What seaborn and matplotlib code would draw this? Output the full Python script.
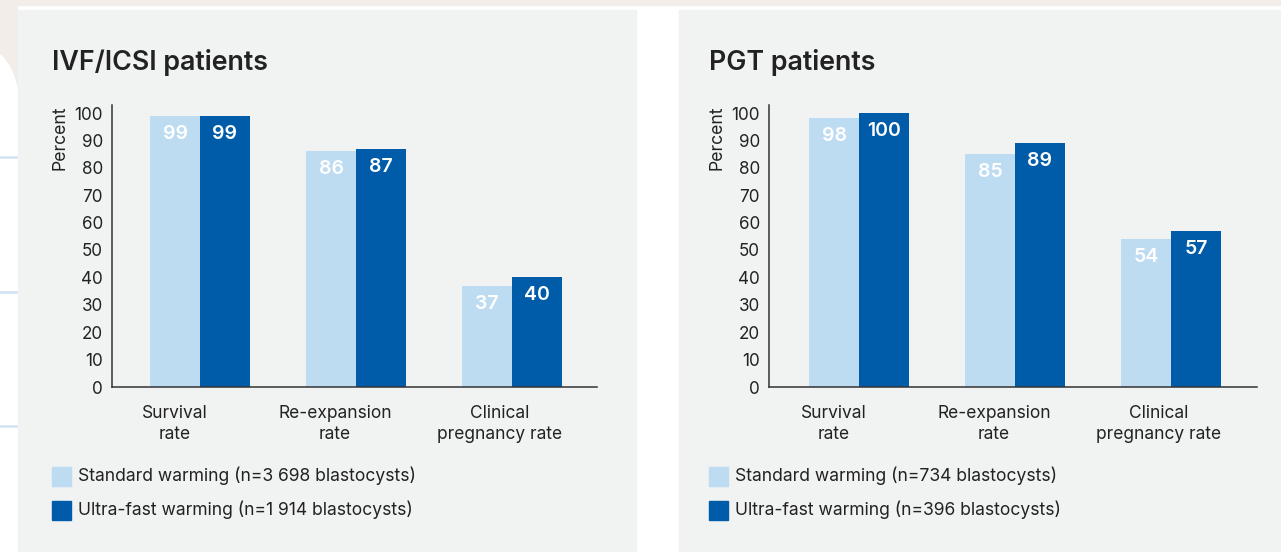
import matplotlib
matplotlib.use("Agg")
import matplotlib.pyplot as plt
import matplotlib.transforms as mtransforms
import seaborn as sns
import pandas as pd
from matplotlib.patches import Rectangle, Ellipse

# ---------------- data ----------------
categories = ["Survival\nrate", "Re-expansion\nrate", "Clinical\npregnancy rate"]
series_names = ["Standard warming", "Ultra-fast warming"]
ivf_standard = [99, 86, 37]
ivf_ultrafast = [99, 87, 40]
pgt_standard = [98, 85, 54]
pgt_ultrafast = [100, 89, 57]
ivf_title = "IVF/ICSI patients"
pgt_title = "PGT patients"
ivf_legend = ["Standard warming (n=3 698 blastocysts)", "Ultra-fast warming (n=1 914 blastocysts)"]
pgt_legend = ["Standard warming (n=734 blastocysts)", "Ultra-fast warming (n=396 blastocysts)"]
yticks = list(range(0, 101, 10))
y_label = "Percent"

# ---------------- style ----------------
LIGHT = "#bddcf2"
DARK = "#005ca8"
PANEL = "#f1f2f2"
BEIGE = "#f2ede8"
TEXT = "#222222"
AXIS = "#333333"
LABEL_SHIFT_PX = [-25, -21, -12]  # category labels sit a little left of the group centres

sns.set_theme(style="white")
plt.rcParams["font.family"] = ["Inter", "DejaVu Sans"]

W, H = 1281, 552
fig = plt.figure(figsize=(W / 100, H / 100), dpi=100)
fig.patch.set_facecolor("white")


def fx(x):
    return x / W


def fy(y):
    return 1 - y / H


# background decoration
fig.patches.append(Rectangle((0, fy(5)), 1, 5 / H, transform=fig.transFigure, color=BEIGE, zorder=0))
fig.patches.append(Rectangle((0, fy(85)), fx(17), 85 / H, transform=fig.transFigure, color=BEIGE, zorder=0))
fig.patches.append(Ellipse((fx(-30), fy(95)), 2 * 47 / W, 2 * 52 / H, transform=fig.transFigure,
                           color="white", zorder=0.5))
for yy in (157, 292, 426):
    fig.add_artist(plt.Line2D([0, fx(17)], [fy(yy), fy(yy)], transform=fig.transFigure,
                              color="#cfe3f3", lw=1.8, zorder=1))
fig.patches.append(Rectangle((fx(18), 0), fx(636 - 18), fy(10), transform=fig.transFigure,
                             color=PANEL, zorder=1))
fig.patches.append(Rectangle((fx(679), 0), 1 - fx(679), fy(10), transform=fig.transFigure,
                             color=PANEL, zorder=1))


def panel(x_axis, x_end, center0, title, std, ufw, legend_labels):
    ax = fig.add_axes([fx(x_axis), fy(387), fx(x_end - x_axis), 282 / H])
    ax.set_zorder(5)
    ax.set_facecolor("none")
    df = pd.DataFrame({
        "category": categories * 2,
        "series": [series_names[0]] * 3 + [series_names[1]] * 3,
        "value": list(std) + list(ufw),
    })
    sns.barplot(data=df, x="category", y="value", hue="series", palette=[LIGHT, DARK],
                width=0.64, gap=0, saturation=1, linewidth=0, legend=False, ax=ax, errorbar=None)
    ax.set_xlim(-(center0 - x_axis) / 156, 2 + (x_end - (center0 + 312)) / 156)
    ax.set_ylim(0, 282 / 2.74)
    ax.set_yticks(yticks)
    ax.tick_params(axis="y", length=0, pad=6.5, labelsize=12.3, labelcolor=TEXT)
    ax.tick_params(axis="x", length=0, pad=13, labelsize=12.5, labelcolor=TEXT)
    for lbl, dx in zip(ax.get_xticklabels(), LABEL_SHIFT_PX):
        lbl.set_linespacing(1.3)
        lbl.set_transform(lbl.get_transform() +
                          mtransforms.ScaledTranslation(dx / 100, 0, fig.dpi_scale_trans))
    for s in ("top", "right"):
        ax.spines[s].set_visible(False)
    for s in ("left", "bottom"):
        ax.spines[s].set_color(AXIS)
        ax.spines[s].set_linewidth(1.1)
    ax.set_xlabel("")
    ax.set_ylabel(y_label, fontsize=12.7, color=TEXT, ha="right", va="center")
    # value labels
    for cont in ax.containers:
        for bar in cont:
            h = bar.get_height()
            ax.annotate(f"{h:.0f}", (bar.get_x() + bar.get_width() / 2, h),
                        xytext=(0, -18), textcoords="offset pixels", ha="center", va="center",
                        color="white", fontsize=14, fontweight="semibold")
    # title
    fig.text(fx(x_axis - 60), fy(62), title, fontsize=19.3, fontweight="semibold", color=TEXT,
             va="center", ha="left", zorder=5)
    # legend
    lx = x_axis - 60
    for i, (lab, col) in enumerate(zip(legend_labels, [LIGHT, DARK])):
        yc = 476 + 34 * i
        fig.patches.append(Rectangle((fx(lx), fy(yc + 9.5)), 19 / W, 19 / H,
                                     transform=fig.transFigure, color=col, zorder=2))
        fig.text(fx(lx + 26), fy(yc), lab, fontsize=12.6, color=TEXT, va="center", ha="left", zorder=5)
    return ax


ax1 = panel(112, 597, 200, ivf_title, ivf_standard, ivf_ultrafast, ivf_legend)
ax2 = panel(769, 1257, 859, pgt_title, pgt_standard, pgt_ultrafast, pgt_legend)
ax1.yaxis.set_label_coords((60 - 112) / (597 - 112), 1.0)
ax2.yaxis.set_label_coords((717 - 769) / (1257 - 769), 1.0)

fig.savefig("out.png", dpi=100, facecolor=fig.get_facecolor())
